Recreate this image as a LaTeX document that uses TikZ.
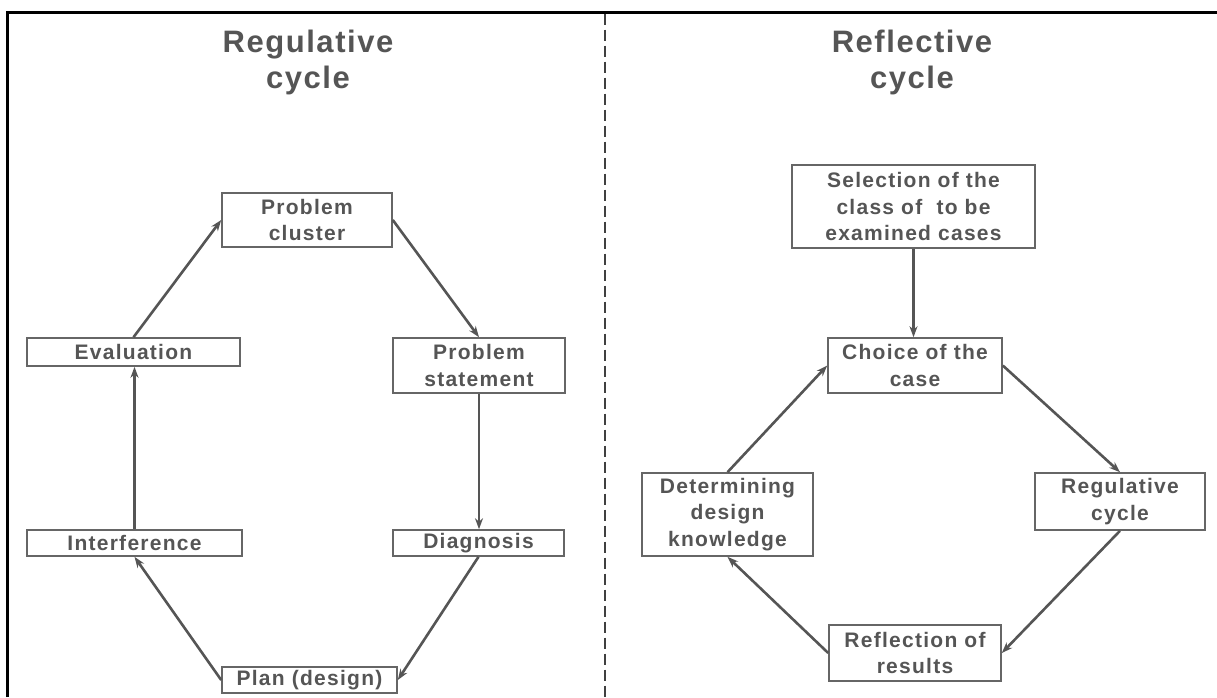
\documentclass[tikz,border=0pt]{standalone}
\usepackage{fontspec}
\setmainfont{Liberation Sans}
\newfontfamily\boxfnt[LetterSpace=6]{Liberation Sans}
\newfontfamily\titlefnt[LetterSpace=5]{Liberation Sans}
\usetikzlibrary{arrows.meta}
\definecolor{ink}{HTML}{555555}
\definecolor{edgec}{HTML}{666666}
\tikzset{
  box/.style={draw=edgec, line width=1.6pt, text=ink, align=center, inner sep=0pt,
    font=\boxfnt\bfseries\fontsize{21}{26.5}\selectfont},
  cyctitle/.style={text=ink, align=center, inner sep=0pt,
    font=\titlefnt\bfseries\fontsize{31}{36}\selectfont},
  conn/.style={draw=ink, line width=2.6pt, -{Stealth[length=11pt,width=8pt]}},
  frame/.style={draw=black, line width=3pt},
  divider/.style={draw=black!75, line width=1.5pt, dash pattern=on 11pt off 5pt},
}
\begin{document}
\begin{tikzpicture}[x=1pt,y=-1pt]
\useasboundingbox (0,0) rectangle (1217,697);
\draw[frame] (7.5,697) -- (7.5,12) -- (1217,12);
\draw[divider] (605,13.5) -- (605,697);

% titles
\node[cyctitle] (t1) at (308,62) {Regulative\\cycle};
\node[cyctitle] (t2) at (912,62) {Reflective\\cycle};

% regulative cycle
\node[box, minimum width=170pt, minimum height=54pt] (cluster) at (307,220) {Problem\\cluster};
\node[box, minimum width=213pt, minimum height=28pt] (eval) at (133.5,352) {Evaluation};
\node[box, minimum width=172pt, minimum height=55pt] (stmt) at (479,365.5) {Problem\\statement};
\node[box, minimum width=215pt, minimum height=26pt] (interf) at (134.5,543) {Interference};
\node[box, minimum width=171pt, minimum height=26pt] (diag) at (478.5,543) {Diagnosis};
\node[box, minimum width=175pt, minimum height=26pt] (plan) at (309.5,680) {Plan (design)};

\draw[conn] (eval.north) -- (cluster.west);
\draw[conn] (cluster.east) -- (stmt.north);
\draw[conn] (stmt.south) -- (stmt.south |- diag.north);
\draw[conn] (diag.south) -- (plan.east);
\draw[conn] (plan.west) -- (interf.south);
\draw[conn] (interf.north) -- (interf.north |- eval.south);

% reflective cycle
\node[box, minimum width=243pt, minimum height=83pt] (sel) at (913.5,206.5) {Selection of the\\class of\ \ to be\\examined cases};
\node[box, minimum width=174pt, minimum height=55pt] (choice) at (915,365.5) {Choice of the\\case};
\node[box, minimum width=170pt, minimum height=57pt] (reg) at (1120,501.5) {Regulative\\cycle};
\node[box, minimum width=171pt, minimum height=83pt] (det) at (727.5,514.5) {Determining\\design\\knowledge};
\node[box, minimum width=172pt, minimum height=56pt] (refl) at (915,653) {Reflection of\\results};

\draw[conn] (sel.south) -- (sel.south |- choice.north);
\draw[conn] (det.north) -- (choice.west);
\draw[conn] (choice.east) -- (reg.north);
\draw[conn] (reg.south) -- (refl.east);
\draw[conn] (refl.west) -- (det.south);
\end{tikzpicture}
\end{document}
